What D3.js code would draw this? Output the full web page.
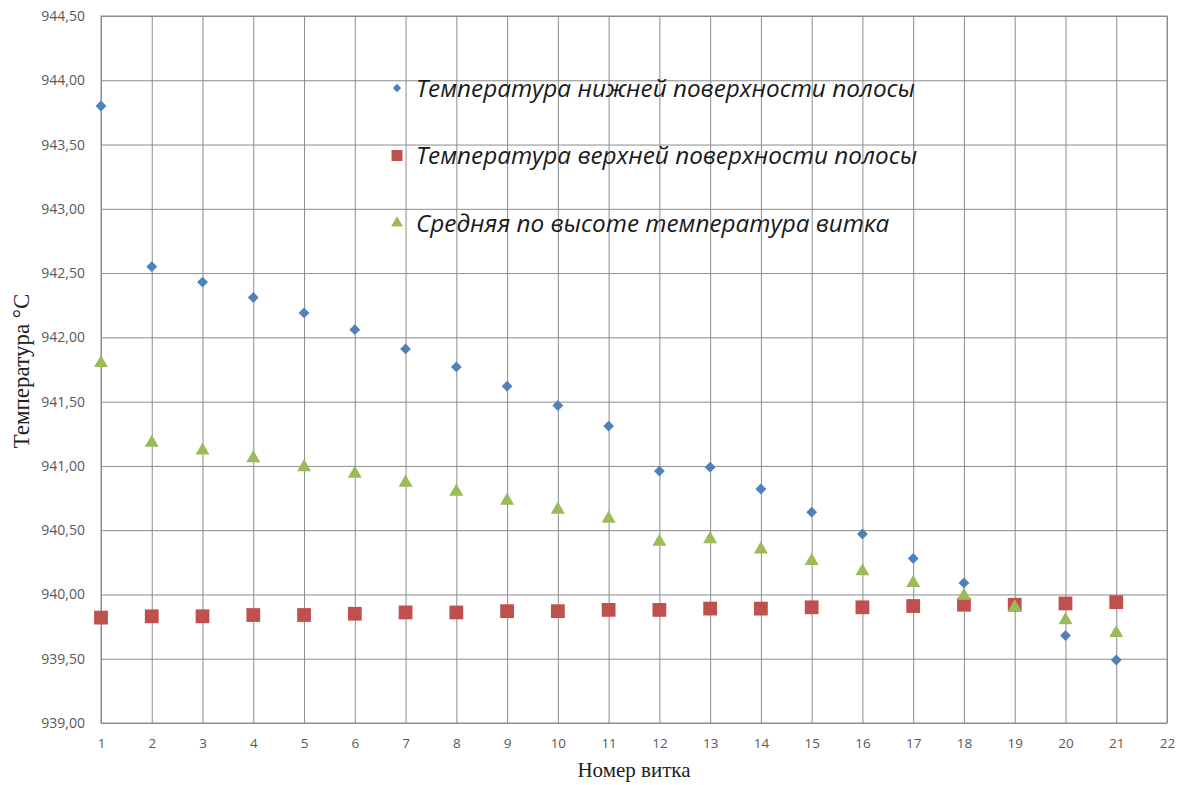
<!DOCTYPE html>
<html lang="ru">
<head>
<meta charset="UTF-8">
<title>Температура по виткам</title>
<style>
  body { margin: 0; background: #fff; }
  svg { display: block; }
</style>
</head>
<body>
<div id="chart"></div>
<script src="https://d3js.org/d3.v7.min.js"></script>
<script>
// номера витков
const turns = [1, 2, 3, 4, 5, 6, 7, 8, 9, 10, 11, 12, 13, 14, 15, 16, 17, 18, 19, 20, 21];

// температура нижней поверхности полосы
const bottomTemp = [943.80, 942.55, 942.43, 942.31, 942.19, 942.06, 941.91, 941.77, 941.62, 941.47,
  941.31, 940.96, 940.99, 940.82, 940.64, 940.47, 940.28, 940.09, 939.91, 939.68, 939.49];

// температура верхней поверхности полосы
const topTemp = [939.82, 939.83, 939.83, 939.84, 939.84, 939.85, 939.86, 939.86, 939.87, 939.87,
  939.88, 939.88, 939.89, 939.89, 939.90, 939.90, 939.91, 939.92, 939.92, 939.93, 939.94];

// средняя по высоте температура витка
const avgTemp = [941.80, 941.18, 941.12, 941.06, 940.99, 940.94, 940.87, 940.80, 940.73, 940.66,
  940.59, 940.41, 940.43, 940.35, 940.26, 940.18, 940.09, 939.99, 939.90, 939.80, 939.70];

const xTicks = d3.range(1, 23);
const yTicks = d3.range(939, 944.51, 0.5);

const seriesNames = [
  "Температура нижней поверхности полосы",
  "Температура верхней поверхности полосы",
  "Средняя по высоте температура витка"
];

const width = 1184, height = 785;
const margin = { top: 16, right: 17, bottom: 62, left: 101 };

const svg = d3.select("#chart").append("svg")
  .attr("width", width)
  .attr("height", height)
  .attr("viewBox", [0, 0, width, height]);

const x = d3.scaleLinear().domain([1, 22]).range([margin.left, width - margin.right]);
const y = d3.scaleLinear().domain([939, 944.5]).range([height - margin.bottom, margin.top]);

const gridColor = "#8c8c8c";
const tickFont = "Open Sans, Liberation Sans, sans-serif";

// вертикальная сетка
svg.append("g")
  .attr("transform", `translate(0,${height - margin.bottom})`)
  .call(d3.axisBottom(x).tickValues(xTicks).tickSize(-(height - margin.top - margin.bottom)).tickFormat(d => d))
  .call(g => g.select(".domain").remove())
  .call(g => g.selectAll("line").attr("stroke", gridColor))
  .call(g => g.selectAll("text")
    .attr("y", 15)
    .attr("dy", "0.71em")
    .attr("fill", "#595959")
    .attr("font-size", 13.5)
    .attr("font-family", tickFont));

// горизонтальная сетка
svg.append("g")
  .attr("transform", `translate(${margin.left},0)`)
  .call(d3.axisLeft(y).tickValues(yTicks).tickSize(-(width - margin.left - margin.right))
    .tickFormat(d => d3.format(".2f")(d).replace(".", ",")))
  .call(g => g.select(".domain").remove())
  .call(g => g.selectAll("line").attr("stroke", gridColor))
  .call(g => g.selectAll("text")
    .attr("x", -16)
    .attr("fill", "#595959")
    .attr("font-size", 14)
    .attr("font-family", tickFont));

// рамка области построения
svg.append("rect")
  .attr("x", margin.left)
  .attr("y", margin.top)
  .attr("width", width - margin.left - margin.right)
  .attr("height", height - margin.top - margin.bottom)
  .attr("fill", "none")
  .attr("stroke", gridColor);

const colors = ["#4F81BD", "#C0504D", "#9BBB59"];
const symbols = [
  d3.symbol().type(d3.symbolDiamond2).size(75),
  d3.symbol().type(d3.symbolSquare).size(190),
  d3.symbol().type(d3.symbolTriangle).size(85)
];

const data = [bottomTemp, topTemp, avgTemp];

// ряды в порядке как в Excel: синий, красный, зелёный
data.forEach((series, s) => {
  svg.append("g")
    .selectAll("path")
    .data(turns.map((t, i) => ({ t, v: series[i] })))
    .join("path")
    .attr("transform", d => `translate(${x(d.t)},${y(d.v)})`)
    .attr("d", symbols[s]())
    .attr("fill", colors[s]);
});

// легенда
const legendSymbols = [
  d3.symbol().type(d3.symbolDiamond2).size(45),
  d3.symbol().type(d3.symbolSquare).size(120),
  d3.symbol().type(d3.symbolTriangle).size(60)
];
const legend = svg.append("g")
  .selectAll("g")
  .data(seriesNames)
  .join("g")
  .attr("transform", (d, i) => `translate(397,${88 + i * 67.5})`);

legend.append("path")
  .attr("d", (d, i) => legendSymbols[i]())
  .attr("fill", (d, i) => colors[i]);

legend.append("text")
  .attr("x", 19)
  .attr("dy", "0.35em")
  .attr("font-family", "Open Sans, sans-serif")
  .attr("font-style", "italic")
  .attr("font-size", 24.3)
  .attr("fill", "#1a1a1a")
  .text(d => d);

// подписи осей
svg.append("text")
  .attr("x", (margin.left + width - margin.right) / 2)
  .attr("y", 777)
  .attr("text-anchor", "middle")
  .attr("font-family", "Liberation Serif, DejaVu Serif, serif")
  .attr("font-size", 21)
  .attr("fill", "#222")
  .text("Номер витка");

svg.append("text")
  .attr("transform", "translate(29,371) rotate(-90)")
  .attr("text-anchor", "middle")
  .attr("font-family", "Liberation Serif, DejaVu Serif, serif")
  .attr("font-size", 23)
  .attr("fill", "#222")
  .text("Температура  °C");
</script>
</body>
</html>
